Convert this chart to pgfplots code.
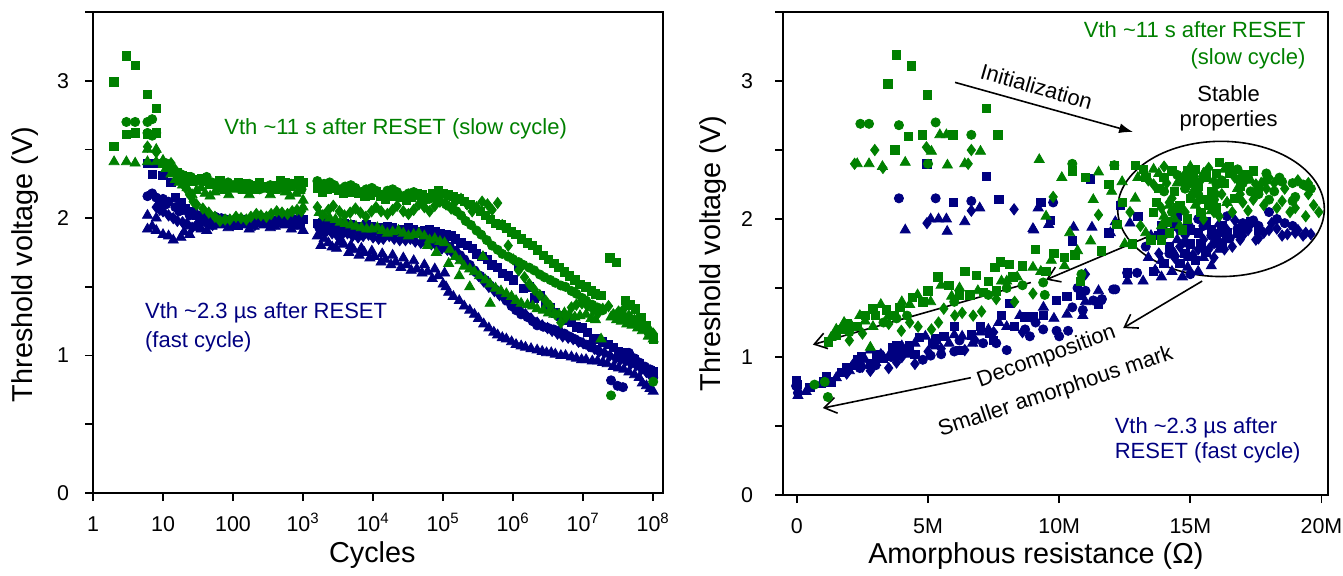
\documentclass[border=0pt]{standalone}
\usepackage{fontspec}
\setmainfont{Liberation Sans}
\usepackage{pgfplots}
\pgfplotsset{compat=1.18}
\usetikzlibrary{arrows.meta}
\definecolor{vgreen}{HTML}{008000}
\definecolor{vblue}{HTML}{000080}
\newcommand{\annot}{\fontsize{11}{14.5}\selectfont}
\pgfplotsset{
  vax/.style={
    scale only axis, ymin=0, ymax=3.5,
    ytick={0,1,2,3}, minor ytick={0.5,1.5,2.5,3.5},
    tick align=outside, tick pos=left,
    major tick length=4pt, minor tick length=4pt,
    axis line style={line width=0.9pt},
    every tick/.append style={line width=0.9pt, black},
    tick label style={font=\fontsize{10.7}{12}\selectfont},
    xticklabel style={text height=11.5pt, text depth=1pt},
    label style={font=\fontsize{14.4}{17}\selectfont},
    ylabel={Threshold voltage (V)},
    /pgf/number format/assume math mode=true,
    clip=false,
  },
  gs/.style={only marks, mark=square*, mark size=2.1pt, color=vgreen},
  gc/.style={only marks, mark=*, mark size=2.3pt, color=vgreen},
  gd/.style={only marks, mark=diamond*, mark size=2.8pt, color=vgreen},
  gt/.style={only marks, mark=triangle*, mark size=2.9pt, color=vgreen},
  bs/.style={only marks, mark=square*, mark size=2.1pt, color=vblue},
  bc/.style={only marks, mark=*, mark size=2.3pt, color=vblue},
  bd/.style={only marks, mark=diamond*, mark size=2.8pt, color=vblue},
  bt/.style={only marks, mark=triangle*, mark size=2.9pt, color=vblue},
}
\begin{document}
\begin{tikzpicture}
% ---------------- left: Vth vs cycles ----------------
\begin{axis}[vax, width=285pt, height=240.5pt,
  xmode=log, xmin=1, xmax=1.38e8, xminorticks=false,
  xtick={1,10,100,1000,1e4,1e5,1e6,1e7,1e8},
  xticklabels={1,10,100,10\textsuperscript{3},10\textsuperscript{4},10\textsuperscript{5},10\textsuperscript{6},10\textsuperscript{7},10\textsuperscript{8}},
  yticklabel style={xshift=-4.4pt},
  xlabel={Cycles},
  xlabel style={at={(axis description cs:0.49,-0.129)}, anchor=center},
  ylabel style={at={(axis description cs:-0.1193,0.475)}, anchor=center},
]
% blue (fast cycle)
\addplot[bs] coordinates {(6,2.40)(7,2.32)(8,2.40)(10,2.31)(13,2.26)(18,2.11)(25,2.05)(35,2.00)(50,1.98)(70,1.97)(100,1.96)(140,1.97)(200,1.98)(280,1.97)(400,1.98)(560,1.97)(800,1.98)(1000,1.99)
 (1600,1.96)(2300,1.96)(3300,1.95)(4700,1.95)(6600,1.94)(9500,1.94)(1.35e4,1.93)(1.9e4,1.93)(2.7e4,1.92)(3.8e4,1.92)(5.4e4,1.91)(7.6e4,1.90)(1.1e5,1.88)(1.5e5,1.85)(2.2e5,1.80)(3e5,1.74)(4.3e5,1.70)(6e5,1.64)(8.5e5,1.58)
 (1.2e6,1.66)(1.7e6,1.50)(2.4e6,1.44)(3.4e6,1.35)(4.8e6,1.29)(6.8e6,1.24)(9.6e6,1.20)(1.4e7,1.12)(1.9e7,1.10)(2.7e7,1.06)(3.8e7,1.02)(5.4e7,0.97)(7.6e7,0.90)(1e8,0.88)
 (15,2.15)(21,2.07)(30,2.02)(42,1.99)(60,1.96)(85,1.98)(120,1.95)(170,1.96)(240,1.99)(340,1.96)(480,1.99)(680,1.96)(900,1.97)
 (1900,1.97)(2700,1.94)(3900,1.96)(5600,1.93)(8000,1.95)(1.1e4,1.92)(1.6e4,1.94)(2.3e4,1.91)(3.2e4,1.93)(4.5e4,1.90)(6.4e4,1.92)(9e4,1.89)(1.3e5,1.87)(1.8e5,1.82)(2.6e5,1.78)(3.6e5,1.72)(5e5,1.66)(7e5,1.60)
 (1e6,1.55)(1.4e6,1.49)(2e6,1.42)(2.9e6,1.37)(4e6,1.31)(5.7e6,1.26)(8e6,1.21)(1.15e7,1.17)(1.6e7,1.12)(2.3e7,1.08)(3.2e7,1.03)(4.5e7,0.99)(6.4e7,0.94)(9e7,0.89)};
\addplot[bc] coordinates {(6,2.16)(7,2.18)(8,2.15)(10,2.14)(12,2.12)(15,2.08)(20,2.06)(28,2.04)(40,2.03)(56,2.01)(80,1.99)(110,1.98)(160,1.98)(220,1.99)(320,1.98)(450,1.99)(640,2.00)(900,2.01)
 (1700,1.93)(2400,1.92)(3400,1.92)(4800,1.91)(6800,1.91)(9600,1.90)(1.35e4,1.90)(1.9e4,1.89)(2.7e4,1.89)(3.8e4,1.88)(5.4e4,1.87)(7.6e4,1.86)(1.05e5,1.82)(1.5e5,1.76)(2e5,1.70)(2.8e5,1.62)(4e5,1.55)(5.6e5,1.48)(8e5,1.40)
 (1.1e6,1.33)(1.6e6,1.28)(2.2e6,1.22)(3.2e6,1.20)(4.5e6,1.18)(6.3e6,1.14)(9e6,1.10)(1.3e7,1.06)(2.5e7,0.82)(3.1e7,0.78)(3.7e7,0.77)(4.5e7,1.02)(6.3e7,0.95)(9e7,0.90)(1e8,0.84)
 (9,2.12)(11,2.10)(17,2.05)(24,2.02)(34,2.00)(48,1.98)(68,2.00)(95,1.97)(135,1.99)(190,1.97)(270,2.00)(380,1.97)(540,2.01)(760,1.99)
 (2000,1.90)(2900,1.93)(4000,1.90)(5700,1.92)(8000,1.89)(1.15e4,1.91)(1.6e4,1.88)(2.3e4,1.90)(3.2e4,1.87)(4.5e4,1.89)(6.4e4,1.85)(9e4,1.84)(1.25e5,1.79)(1.75e5,1.73)(2.4e5,1.66)(3.4e5,1.58)(4.7e5,1.51)
 (6.7e5,1.44)(9.5e5,1.36)(1.3e6,1.30)(1.9e6,1.25)(2.7e6,1.21)(3.8e6,1.19)(5.4e6,1.16)(7.6e6,1.12)(1.1e7,1.08)(1.6e7,1.04)(5.4e7,0.98)(7.6e7,0.92)};
\addplot[bd] coordinates {(8,2.08)(10,2.05)(12,2.02)(16,1.98)(22,1.96)(30,1.95)(42,1.96)(60,1.97)(85,1.96)(120,1.97)(170,1.96)(240,1.97)(340,1.98)(480,1.97)(680,1.98)(950,2.00)
 (1800,1.90)(2600,1.89)(3600,1.88)(5100,1.87)(7200,1.87)(1e4,1.86)(1.4e4,1.85)(2e4,1.85)(2.9e4,1.84)(4e4,1.83)(5.7e4,1.82)(8e4,1.80)(1.15e5,1.77)(1.6e5,1.72)(2.3e5,1.66)(3.2e5,1.58)(4.5e5,1.50)(6.4e5,1.44)(9e5,1.38)
 (1.3e6,1.32)(1.8e6,1.27)(2.6e6,1.22)(3.6e6,1.18)(5.1e6,1.14)(7.2e6,1.12)(1e7,1.09)(1.45e7,1.05)(2e7,1.02)(2.9e7,0.98)(4e7,0.96)(5.7e7,0.93)(8e7,0.88)(1e8,0.85)
 (9,2.06)(14,2.00)(19,1.97)(26,1.93)(36,1.97)(51,1.95)(72,1.98)(100,1.95)(145,1.98)(205,1.95)(290,1.99)(410,1.96)(580,1.99)(820,1.96)
 (2200,1.91)(3100,1.87)(4300,1.89)(6100,1.86)(8600,1.88)(1.2e4,1.85)(1.7e4,1.87)(2.4e4,1.84)(3.4e4,1.85)(4.8e4,1.82)(6.8e4,1.81)(9.6e4,1.78)(1.35e5,1.75)(1.9e5,1.69)(2.7e5,1.62)(3.8e5,1.54)(5.4e5,1.47)
 (7.6e5,1.41)(1.1e6,1.35)(1.5e6,1.30)(2.2e6,1.24)(3.1e6,1.20)(4.3e6,1.16)(6.1e6,1.13)(8.6e6,1.10)(1.2e7,1.07)(1.7e7,1.03)(2.4e7,1.00)(3.4e7,0.97)(4.8e7,0.94)(6.8e7,0.90)(9e7,0.86)};
\addplot[bt] coordinates {(6,2.02)(6,1.92)(7,1.94)(8,1.91)(8,2.00)(12,1.87)(18,1.86)(24,1.88)(35,1.92)(50,1.94)(70,1.95)(100,1.94)(140,1.95)(200,1.94)(280,1.95)(400,1.94)(560,1.95)(800,1.94)(1000,1.91)
 (1600,1.87)(1800,1.80)(2300,1.82)(3000,1.78)(3300,1.83)(4500,1.75)(4800,1.80)(6300,1.73)(6800,1.78)(9000,1.71)(9600,1.76)(1.3e4,1.68)(1.35e4,1.74)(1.8e4,1.66)(1.9e4,1.73)(2.5e4,1.64)(2.7e4,1.71)(3.5e4,1.62)(3.8e4,1.69)
 (5e4,1.60)(5.4e4,1.66)(7e4,1.56)(7.6e4,1.63)(1e5,1.52)(1.05e5,1.60)(1.2e5,1.46)(1.7e5,1.40)(2.4e5,1.33)(3.2e5,1.27)(4.5e5,1.20)(6e5,1.15)(8e5,1.12)(1.1e6,1.08)(1.5e6,1.06)(2.2e6,1.04)(3e6,1.02)(4e6,1.01)(5.6e6,1.00)
 (8e6,0.98)(1.1e7,0.97)(1.6e7,0.96)(2.2e7,0.94)(3.2e7,0.91)(4.5e7,0.88)(6.3e7,0.84)(8e7,0.78)(1e8,0.74)
 (10,1.88)(14,1.84)(20,1.90)(28,1.93)(42,1.91)(60,1.96)(85,1.93)(120,1.96)(170,1.92)(240,1.96)(340,1.93)(480,1.96)(680,1.92)(900,1.95)
 (2000,1.85)(2600,1.79)(3800,1.81)(5300,1.77)(7500,1.75)(1.05e4,1.72)(1.5e4,1.70)(2.1e4,1.68)(3e4,1.66)(4.2e4,1.63)(6e4,1.61)(8.5e4,1.58)(1.1e5,1.50)(1.4e5,1.43)(2e5,1.36)(2.8e5,1.30)(3.8e5,1.23)
 (5.3e5,1.17)(7e5,1.13)(9.5e5,1.10)(1.3e6,1.07)(1.8e6,1.05)(2.6e6,1.03)(3.5e6,1.02)(4.8e6,1.00)(6.8e6,0.99)(9.5e6,0.97)(1.35e7,0.96)(1.9e7,0.95)(2.7e7,0.92)(3.8e7,0.90)(5.4e7,0.86)(7e7,0.80)(9e7,0.76)};
% green (slow cycle)
\addplot[gs] coordinates {(2,2.99)(2,2.52)(3,3.18)(3,2.61)(4,3.11)(4,2.62)(6,2.90)(6,2.61)(8,2.80)(8,2.62)(12,2.38)(16,2.33)(22,2.30)(30,2.28)(40,2.27)(55,2.25)(75,2.24)(100,2.23)(140,2.25)(200,2.24)(280,2.23)(400,2.24)(550,2.26)(750,2.25)(1000,2.26)
 (1600,2.22)(2200,2.21)(3200,2.20)(4500,2.19)(6300,2.18)(9000,2.17)(1.3e4,2.16)(1.8e4,2.16)(2.5e4,2.15)(3.5e4,2.15)(5e4,2.17)(7e4,2.18)(1e5,2.18)(1.4e5,2.16)(2e5,2.12)(2.8e5,2.08)(4e5,2.02)(5.6e5,1.96)(8e5,1.93)
 (1.1e6,1.88)(1.6e6,1.82)(2.2e6,1.77)(3.2e6,1.70)(4.5e6,1.64)(6.3e6,1.58)(9e6,1.52)(1.3e7,1.47)(1.8e7,1.44)(2.4e7,1.71)(3e7,1.68)(4e7,1.40)(5.6e7,1.34)(8e7,1.22)(1e8,1.12)
 (10,2.40)(14,2.34)(19,2.31)(26,2.27)(35,2.29)(47,2.25)(65,2.27)(87,2.23)(120,2.26)(170,2.22)(240,2.26)(340,2.22)(470,2.27)(650,2.23)(870,2.27)
 (1900,2.19)(2700,2.22)(3800,2.18)(5400,2.21)(7600,2.16)(1.1e4,2.19)(1.5e4,2.14)(2.1e4,2.18)(3e4,2.13)(4.2e4,2.18)(6e4,2.15)(8.5e4,2.20)(1.2e5,2.17)(1.7e5,2.14)(2.4e5,2.10)(3.4e5,2.05)(4.7e5,1.99)
 (6.7e5,1.95)(9.5e5,1.90)(1.3e6,1.85)(1.9e6,1.80)(2.7e6,1.73)(3.8e6,1.67)(5.4e6,1.61)(7.6e6,1.55)(1.1e7,1.50)(1.5e7,1.45)(4.7e7,1.37)(6.7e7,1.28)(9e7,1.16)};
\addplot[gc] coordinates {(3,2.70)(4,2.70)(6,2.70)(7,2.72)(6,2.62)(7,2.60)(8,2.62)(11,2.40)(14,2.35)(18,2.32)(25,2.30)(35,2.28)(50,2.26)(70,2.24)(100,2.24)
 (1600,2.27)(2000,2.25)(2800,2.24)(4000,2.23)(5600,2.22)(8000,2.21)(1.1e4,2.20)(1.6e4,2.20)(2.2e4,2.19)(3.2e4,2.18)(4.5e4,2.16)(6.3e4,2.14)(9e4,2.12)(1.3e5,2.08)(1.8e5,2.02)(2.5e5,1.95)(3.5e5,1.88)(5e5,1.80)(7e5,1.74)
 (1e6,1.70)(1.4e6,1.66)(2e6,1.62)(2.8e6,1.57)(4e6,1.53)(5.6e6,1.50)(8e6,1.45)(1.1e7,1.40)(1.6e7,1.35)(2.5e7,0.71)(3.2e7,1.30)(5e7,1.25)(7e7,1.20)(1e8,0.81)
 (13,2.36)(16,2.31)(21,2.29)(30,2.27)(42,2.30)(60,2.25)(85,2.26)(120,2.22)(170,2.25)(240,2.21)(340,2.24)(480,2.22)(680,2.25)(950,2.21)
 (1800,2.24)(2400,2.26)(3400,2.21)(4800,2.24)(6800,2.19)(9600,2.22)(1.35e4,2.17)(1.9e4,2.21)(2.7e4,2.16)(3.8e4,2.19)(5.4e4,2.13)(7.6e4,2.15)(1.1e5,2.10)(1.55e5,2.05)(2.1e5,1.98)(3e5,1.91)(4.2e5,1.84)
 (6e5,1.77)(8.5e5,1.72)(1.2e6,1.68)(1.7e6,1.64)(2.4e6,1.59)(3.4e6,1.55)(4.8e6,1.51)(6.8e6,1.47)(9.6e6,1.42)(1.35e7,1.37)(1.9e7,1.33)(4e7,1.28)(6e7,1.22)(8.5e7,1.17)};
\addplot[gd] coordinates {(6,2.52)(8,2.48)(13,2.40)(18,2.30)(24,2.17)(30,2.10)(45,2.04)(65,1.98)(90,1.99)(130,2.00)(180,2.01)(250,2.02)(350,2.03)(500,2.04)(700,2.05)(950,2.05)
 (1600,2.08)(2300,2.06)(3300,2.05)(4700,2.04)(6600,2.04)(9500,2.05)(1.3e4,2.05)(1.9e4,2.06)(2.7e4,2.05)(3.8e4,2.06)(5.4e4,2.08)(7.6e4,2.09)(1.1e5,2.10)(1.5e5,2.12)(2.2e5,2.10)(3e5,2.08)(4.3e5,2.10)(6e5,2.11)
 (8.5e5,1.80)(1.2e6,1.62)(1.7e6,1.52)(2.4e6,1.44)(3.4e6,1.36)(4.8e6,1.24)(6.8e6,1.35)(9.6e6,1.38)(1.4e7,1.33)(1.9e7,1.34)(2.7e7,1.30)(3.8e7,1.34)(5.4e7,1.26)(7.6e7,1.20)(1e8,1.16)
 (15,2.35)(21,2.22)(27,2.12)(37,2.07)(55,2.01)(77,1.99)(110,2.01)(155,1.99)(215,2.03)(300,2.01)(420,2.05)(600,2.03)(820,2.06)
 (1900,2.02)(2700,2.09)(3900,2.02)(5600,2.07)(7900,2.01)(1.1e4,2.08)(1.6e4,2.03)(2.2e4,2.09)(3.2e4,2.03)(4.5e4,2.10)(6.4e4,2.05)(9e4,2.12)(1.3e5,2.07)(1.8e5,2.14)(2.6e5,2.05)(3.6e5,2.12)(5e5,2.06)(7e5,1.95)
 (1e6,1.70)(1.45e6,1.57)(2e6,1.48)(2.9e6,1.40)(4e6,1.30)(5.7e6,1.28)(8e6,1.37)(1.15e7,1.36)(1.65e7,1.31)(2.3e7,1.36)(3.2e7,1.32)(4.5e7,1.29)(6.4e7,1.23)(9e7,1.18)};
\addplot[gt] coordinates {(2,2.41)(3,2.41)(4,2.40)(6,2.50)(6,2.41)(8,2.50)(8,2.41)(10,2.42)(13,2.32)(17,2.26)(22,2.22)(30,2.20)(40,2.18)(55,2.19)(75,2.20)(100,2.21)(140,2.20)(200,2.20)(280,2.21)(400,2.20)(560,2.19)(800,2.18)(1000,2.13)(1000,2.08)
 (1700,2.04)(2400,2.00)(3400,1.97)(4800,1.95)(6800,1.93)(9600,1.92)(1.35e4,1.91)(1.9e4,1.90)(2.7e4,1.89)(3.8e4,1.88)(5.4e4,1.87)(7.6e4,1.85)(1.05e5,1.82)(1.5e5,1.72)(2e5,1.65)(2.8e5,1.61)(4e5,1.55)(5.6e5,1.49)(8e5,1.45)
 (6e4,1.80)(8e4,1.75)(1.2e5,1.67)(1.7e5,1.58)(2.4e5,1.50)(3.7e5,1.72)(4.7e5,1.38)
 (1.1e6,1.40)(1.6e6,1.37)(2.2e6,1.34)(3.2e6,1.31)(4.5e6,1.30)(6.3e6,1.30)(9e6,1.29)(1.3e7,1.27)(1.8e7,1.12)(2.5e7,1.28)(3.5e7,1.25)(5e7,1.22)(7e7,1.18)(1e8,1.12)
 (11,2.36)(15,2.28)(19,2.24)(26,2.17)(35,2.22)(47,2.16)(65,2.21)(87,2.17)(120,2.22)(170,2.17)(240,2.22)(340,2.17)(470,2.22)(650,2.16)(900,2.20)
 (2000,2.02)(2900,1.99)(4000,1.96)(5700,1.94)(8100,1.92)(1.15e4,1.93)(1.6e4,1.89)(2.3e4,1.91)(3.2e4,1.87)(4.5e4,1.89)(6.4e4,1.84)(9e4,1.83)(1.25e5,1.77)(1.75e5,1.69)(2.4e5,1.63)(3.3e5,1.58)(4.7e5,1.52)
 (6.7e5,1.47)(9.5e5,1.43)(1.3e6,1.38)(1.9e6,1.36)(2.7e6,1.33)(3.8e6,1.30)(5.4e6,1.31)(7.6e6,1.28)(1.1e7,1.30)(1.5e7,1.26)(3e7,1.26)(4.2e7,1.23)(6e7,1.20)(8.5e7,1.14)};
\node[vgreen, font=\annot] at (axis cs:2.1e4,2.65) {Vth \textasciitilde11 s after RESET (slow cycle)};
\node[vblue, font=\annot, anchor=west, align=left] at (axis cs:4.4,1.208) {Vth \textasciitilde2.3 µs after RESET\\(fast cycle)};
\end{axis}
% ---------------- right: Vth vs amorphous resistance ----------------
\begin{axis}[vax, at={(345pt,-1pt)}, width=272.5pt, height=241.5pt,
  xmin=-0.53, xmax=20.25,
  xtick={0,5,10,15,20}, xticklabels={0,5M,10M,15M,20M},
  yticklabel style={xshift=-7.4pt},
  xlabel={Amorphous resistance (Ω)},
  xlabel style={at={(axis description cs:0.464,-0.126)}, anchor=center},
  ylabel style={at={(axis description cs:-0.1284,0.5)}, anchor=center},
]
% blue (fast cycle)
\addplot[bs] coordinates {(4.96,2.40)(7.22,2.31)(5.97,2.12)(7.7,2.14)(9.3,2.12)(9.67,1.99)(11.18,2.29)(12.33,2.10)(13.0,2.02)(13.9,1.95)(14.5,2.02)(15.0,1.92)(15.6,1.98)(16.2,1.95)(16.8,1.90)(17.3,1.98)
 (14.2,1.80)(14.8,1.75)(15.4,1.82)(16.0,1.85)(14.0,1.68)(13.6,1.62)(15.2,1.70)(12.6,1.61)(11.9,1.90)(10.5,1.84)(9.0,1.29)(8.12,1.39)(8.69,1.29)(7.35,1.17)(6.65,1.16)(5.19,1.10)(4.68,1.14)(3.66,1.07)
 (3.03,1.02)(2.46,1.00)(1.69,0.89)(1.12,0.86)(1.31,0.82)(0.0,0.80)(-0.03,0.83)(6.0,1.22)(7.8,1.30)(9.9,1.41)(10.3,1.44)(2.8,0.95)(3.9,1.02)(4.3,1.08)(5.6,1.15)
 (14.4,1.95)(15.0,1.82)(15.3,1.90)(15.8,1.92)(16.4,1.90)(17.0,1.93)(17.6,1.92)(14.6,1.68)(15.6,1.76)(16.2,1.82)(13.8,1.88)(14.9,1.98)
 (0.5,0.78)(1.0,0.82)(1.9,0.92)(2.3,0.98)(3.3,0.99)(3.8,1.08)(4.5,1.02)(5.3,1.13)(6.2,1.05)(7.0,1.22)(7.5,1.12)(8.3,1.22)(9.4,1.30)(10.8,1.45)(11.5,1.38)};
\addplot[bc] coordinates {(3.89,2.15)(5.29,2.15)(6.65,2.13)(9.77,2.12)(12.06,1.49)(9.39,1.20)(9.9,1.19)(10.34,1.19)(10.9,1.34)(11.3,1.41)(11.6,1.41)(10.7,1.50)(12.14,1.49)(11.63,1.42)(12.59,1.61)(12.97,1.61)
 (10.5,1.36)(10.0,1.15)(8.88,1.15)(13.3,1.80)(14.6,1.92)(15.3,2.00)(16.4,2.02)(17.0,1.97)(17.6,1.95)(18.0,2.05)(18.6,1.97)(15.8,1.88)(16.5,1.86)(5.5,1.02)(4.8,0.98)(0.04,0.74)(-0.03,0.79)(3.6,1.00)
 (6.2,1.12)(7.1,1.10)(8.0,1.05)(8.7,1.20)
 (14.2,1.75)(14.8,1.83)(15.5,1.95)(16.1,1.90)(16.8,1.93)(17.4,1.99)(18.3,2.00)(18.9,1.95)(15.0,1.60)(15.9,1.82)
 (2.4,0.92)(3.0,0.94)(4.1,1.03)(5.1,1.01)(6.0,1.04)(7.6,1.10)(9.1,1.25)(11.0,1.48)};
\addplot[bd] coordinates {(6.65,2.06)(8.28,2.07)(4.96,1.97)(11.0,1.60)(14.1,1.90)(14.8,1.88)(15.5,1.85)(16.1,1.96)(16.7,1.99)(17.2,1.92)(17.8,1.90)(18.3,1.93)(18.7,1.89)(19.0,1.90)(19.3,1.88)(19.6,1.89)
 (18.1,1.97)(17.5,1.85)(16.9,1.85)(16.3,1.78)(15.7,1.78)(15.1,1.74)(14.4,1.72)(13.8,1.75)(2.5,0.93)(3.0,0.97)(3.5,0.92)(4.0,1.00)(4.5,0.95)(5.0,1.04)(1.9,0.88)(2.2,0.96)(6.4,1.05)(7.5,1.18)
 (16.4,1.92)(17.0,1.88)(17.6,1.86)(18.0,1.92)(18.5,1.88)(19.1,1.92)(19.4,1.90)(17.3,1.96)(16.6,1.80)(15.9,1.72)(15.3,1.78)(14.6,1.80)
 (2.8,0.90)(3.2,1.02)(3.8,0.96)(4.3,1.05)(5.5,1.06)(6.8,1.12)(8.6,1.18)};
\addplot[bt] coordinates {(4.13,1.92)(5.1,2.00)(5.4,2.00)(5.7,2.00)(5.73,1.91)(6.4,1.98)(6.97,2.08)(9.03,1.92)(9.2,2.08)(9.6,1.96)(9.0,1.93)(10.55,1.94)(11.25,1.94)(11.95,1.90)(12.14,1.98)(12.7,1.97)(13.5,1.88)
 (13.2,1.55)(13.9,1.58)(13.66,1.63)(14.3,1.62)(14.9,1.65)(15.5,1.72)(16.1,1.78)(14.5,1.85)(15.0,1.95)(0.35,0.75)(0.04,0.72)(0.9,0.80)(1.5,0.85)(2.0,0.90)(2.6,0.98)(3.3,1.00)(4.0,1.08)(4.5,1.10)
 (5.8,1.10)(6.3,1.15)(7.0,1.18)(7.7,1.25)(8.5,1.30)(9.4,1.36)(10.9,1.30)(10.3,1.31)(11.5,1.48)(12.6,1.55)(2.8,1.05)(4.9,1.15)
 (13.9,1.70)(14.4,1.75)(14.9,1.72)(15.3,1.62)(15.8,1.66)(16.3,1.85)(16.9,1.92)(14.1,1.98)(13.4,1.72)(14.7,1.58)
 (2.2,0.93)(3.0,0.96)(3.6,1.04)(4.3,1.02)(5.3,1.08)(6.0,1.16)(6.7,1.10)(7.3,1.20)(8.0,1.22)(9.8,1.28)(11.0,1.40)};
% green (slow cycle)
\addplot[gs] coordinates {(3.47,2.98)(3.79,3.19)(4.36,3.11)(4.97,2.90)(7.22,2.80)(4.24,2.60)(4.78,2.61)(3.73,2.50)(5.95,2.61)(7.67,2.61)(10.5,2.35)(11.0,2.30)(12.1,2.39)(12.9,2.39)(11.9,2.25)(13.3,2.30)
 (13.8,2.22)(14.3,2.35)(14.8,2.28)(15.2,2.36)(15.6,2.30)(16.1,2.41)(16.5,2.33)(15.0,2.15)(14.5,2.08)(15.4,2.05)(14.1,1.98)(13.6,2.05)(16.9,2.24)(17.4,2.35)(15.8,2.20)(14.7,1.92)(13.9,1.85)(12.8,1.82)
 (11.6,1.77)(10.2,1.72)(9.1,1.78)(8.1,1.67)(7.75,1.69)(7.55,1.65)(6.85,1.59)(6.4,1.62)(5.38,1.58)(8.24,1.58)(7.61,1.48)(7.1,1.47)(6.6,1.45)(4.81,1.40)(3.92,1.36)(3.41,1.34)(2.9,1.35)(2.6,1.30)
 (1.69,1.20)(1.5,1.16)(1.2,1.11)(10.6,1.74)(9.5,1.62)(10.8,1.55)(12.4,2.12)(12.2,1.96)
 (13.2,2.36)(13.7,2.12)(14.0,2.30)(14.4,2.20)(14.9,2.35)(15.3,2.24)(15.7,2.10)(16.0,2.33)(16.3,2.26)(16.7,2.15)(17.1,2.32)(17.6,2.22)(14.2,1.90)(14.9,2.00)(15.5,2.14)(16.0,2.08)(13.5,1.85)(14.6,2.10)(16.5,2.38)(15.1,2.29)
 (1.9,1.24)(2.3,1.22)(3.0,1.30)(3.7,1.30)(4.4,1.43)(5.0,1.48)(5.8,1.52)(6.2,1.45)(7.3,1.55)(8.6,1.66)(9.8,1.75)};
\addplot[gc] coordinates {(2.42,2.69)(2.75,2.69)(3.89,2.68)(5.29,2.70)(6.65,2.61)(5.0,2.40)(10.5,2.40)(12.1,2.39)(16.6,2.33)(17.2,2.30)(17.9,2.28)(18.5,2.27)(18.9,2.13)(19.3,2.25)(19.6,2.22)(17.6,2.18)
 (16.0,2.25)(15.3,2.18)(14.8,2.22)(18.2,2.20)(0.67,0.80)(1.06,0.82)(1.18,0.71)(9.39,1.54)(9.45,1.45)(10.85,1.60)(7.3,1.45)(8.0,1.50)(3.3,1.25)(4.2,1.30)(2.0,1.18)
 (14.0,2.20)(14.5,2.32)(15.0,2.26)(15.6,2.34)(16.2,2.28)(16.8,2.36)(17.3,2.20)(17.9,2.33)(18.4,2.30)(18.9,2.26)(19.4,2.24)(19.0,2.16)(18.0,2.14)(17.0,2.26)(15.9,2.14)(14.3,2.05)
 (3.8,1.28)(6.0,1.40)(8.6,1.52)};
\addplot[gd] coordinates {(2.97,2.50)(4.94,2.52)(6.65,2.50)(2.2,2.40)(3.28,2.37)(6.53,2.40)(9.77,2.16)(12.7,2.05)(11.5,2.03)(13.4,2.28)(14.0,2.38)(15.7,2.37)(16.2,2.18)(17.0,2.12)(17.5,2.25)(18.0,2.30)
 (18.6,2.22)(19.1,2.28)(19.5,2.18)(19.9,2.05)(19.4,2.02)(18.8,2.05)(18.3,2.08)(17.8,2.10)(17.2,2.06)(16.6,2.05)(16.1,2.02)(15.5,2.00)(14.2,2.12)(13.1,1.95)(3.98,1.19)(4.62,1.22)(5.13,1.20)(6.02,1.30)
 (6.72,1.30)(7.04,1.33)(8.3,1.40)(5.6,1.35)(2.5,1.17)(3.5,1.24)
 (13.6,2.25)(14.3,2.15)(14.8,2.05)(15.3,2.13)(15.9,2.05)(16.4,2.12)(16.9,2.18)(17.4,2.14)(17.9,2.22)(18.5,2.13)(19.0,2.08)(19.5,2.26)(19.7,2.10)(18.2,2.26)(16.7,2.30)(15.4,2.28)(14.1,2.26)(13.9,2.08)
 (2.0,1.12)(4.3,1.25)(5.4,1.25)(6.3,1.32)(7.6,1.42)(9.0,1.46)};
\addplot[gt] coordinates {(2.3,2.40)(2.75,2.40)(3.26,2.38)(4.13,2.41)(5.45,2.61)(5.7,2.61)(5.13,2.49)(5.74,2.39)(6.4,2.40)(7.0,2.49)(9.24,2.43)(10.1,2.30)(11.5,2.34)(12.4,2.27)(13.6,2.36)(14.5,2.26)(15.0,2.38)
 (15.9,2.28)(16.4,2.12)(15.2,2.10)(14.0,2.02)(14.6,1.95)(13.3,1.90)(12.5,1.82)(11.2,1.84)(10.7,1.77)(9.7,1.70)(9.0,1.65)(8.4,1.58)(7.8,1.55)(6.2,1.50)(5.5,1.52)(4.6,1.45)(4.0,1.40)(3.2,1.38)(2.4,1.30)
 (1.8,1.25)(1.3,1.14)(2.9,1.22)(15.7,2.15)(16.9,2.30)(2.8,1.07)
 (13.0,2.30)(13.8,2.33)(14.2,2.10)(14.7,2.30)(15.1,2.20)(15.5,2.33)(16.0,2.18)(16.3,2.36)(16.8,2.22)(17.3,2.28)(13.9,1.95)(14.4,2.00)(15.8,2.06)(17.7,2.26)
 (9.5,2.02)(10.4,1.90)(11.3,2.14)(12.0,2.20)(12.9,2.15)
 (1.5,1.20)(2.1,1.22)(2.6,1.26)(3.5,1.30)(4.3,1.38)(5.1,1.40)(5.9,1.44)(6.9,1.48)(8.0,1.55)(9.3,1.62)(10.2,1.66)};
% annotations
\node[vgreen, font=\fontsize{11}{13.5}\selectfont, anchor=east, align=right] at (axis cs:19.66,3.257) {Vth \textasciitilde11 s after RESET\\(slow cycle)};
\node[font=\annot, rotate=-16] at (axis cs:9.14,2.96) {Initialization};
\draw[line width=0.8pt, -{Latex[length=7pt,width=5pt]}] (axis cs:6.03,2.99) -- (axis cs:12.82,2.63);
\node[font=\fontsize{11}{12.5}\selectfont, align=center] at (axis cs:16.46,2.80) {Stable\\properties};
\draw[line width=0.8pt] (axis cs:16.17,2.073) ellipse [x radius=3.94, y radius=0.49];
\draw[line width=0.8pt, -{Straight Barb[length=6pt,width=8pt]}] (axis cs:13.98,1.92) -- (axis cs:9.5,1.56);
\draw[line width=0.8pt, -{Straight Barb[length=6pt,width=8pt]}] (axis cs:8.92,1.54) -- (axis cs:0.61,1.09);
\draw[line width=0.8pt, -{Straight Barb[length=6pt,width=8pt]}] (axis cs:15.45,1.55) -- (axis cs:12.44,1.21);
\draw[line width=0.8pt, -{Straight Barb[length=6pt,width=8pt]}] (axis cs:6.63,0.85) -- (axis cs:0.99,0.63);
\node[font=\annot, rotate=20] at (axis cs:9.52,1.0) {Decomposition};
\node[font=\annot, rotate=18.5] at (axis cs:9.87,0.745) {Smaller amorphous mark};
\node[vblue, font=\fontsize{11}{12.5}\selectfont, anchor=west, align=left] at (axis cs:11.85,0.396) {Vth \textasciitilde2.3 µs after\\RESET (fast cycle)};
\end{axis}
\pgfresetboundingbox
\path[use as bounding box] (-46.5pt,-41pt) rectangle (625pt,246.5pt);
\end{tikzpicture}
\end{document}
